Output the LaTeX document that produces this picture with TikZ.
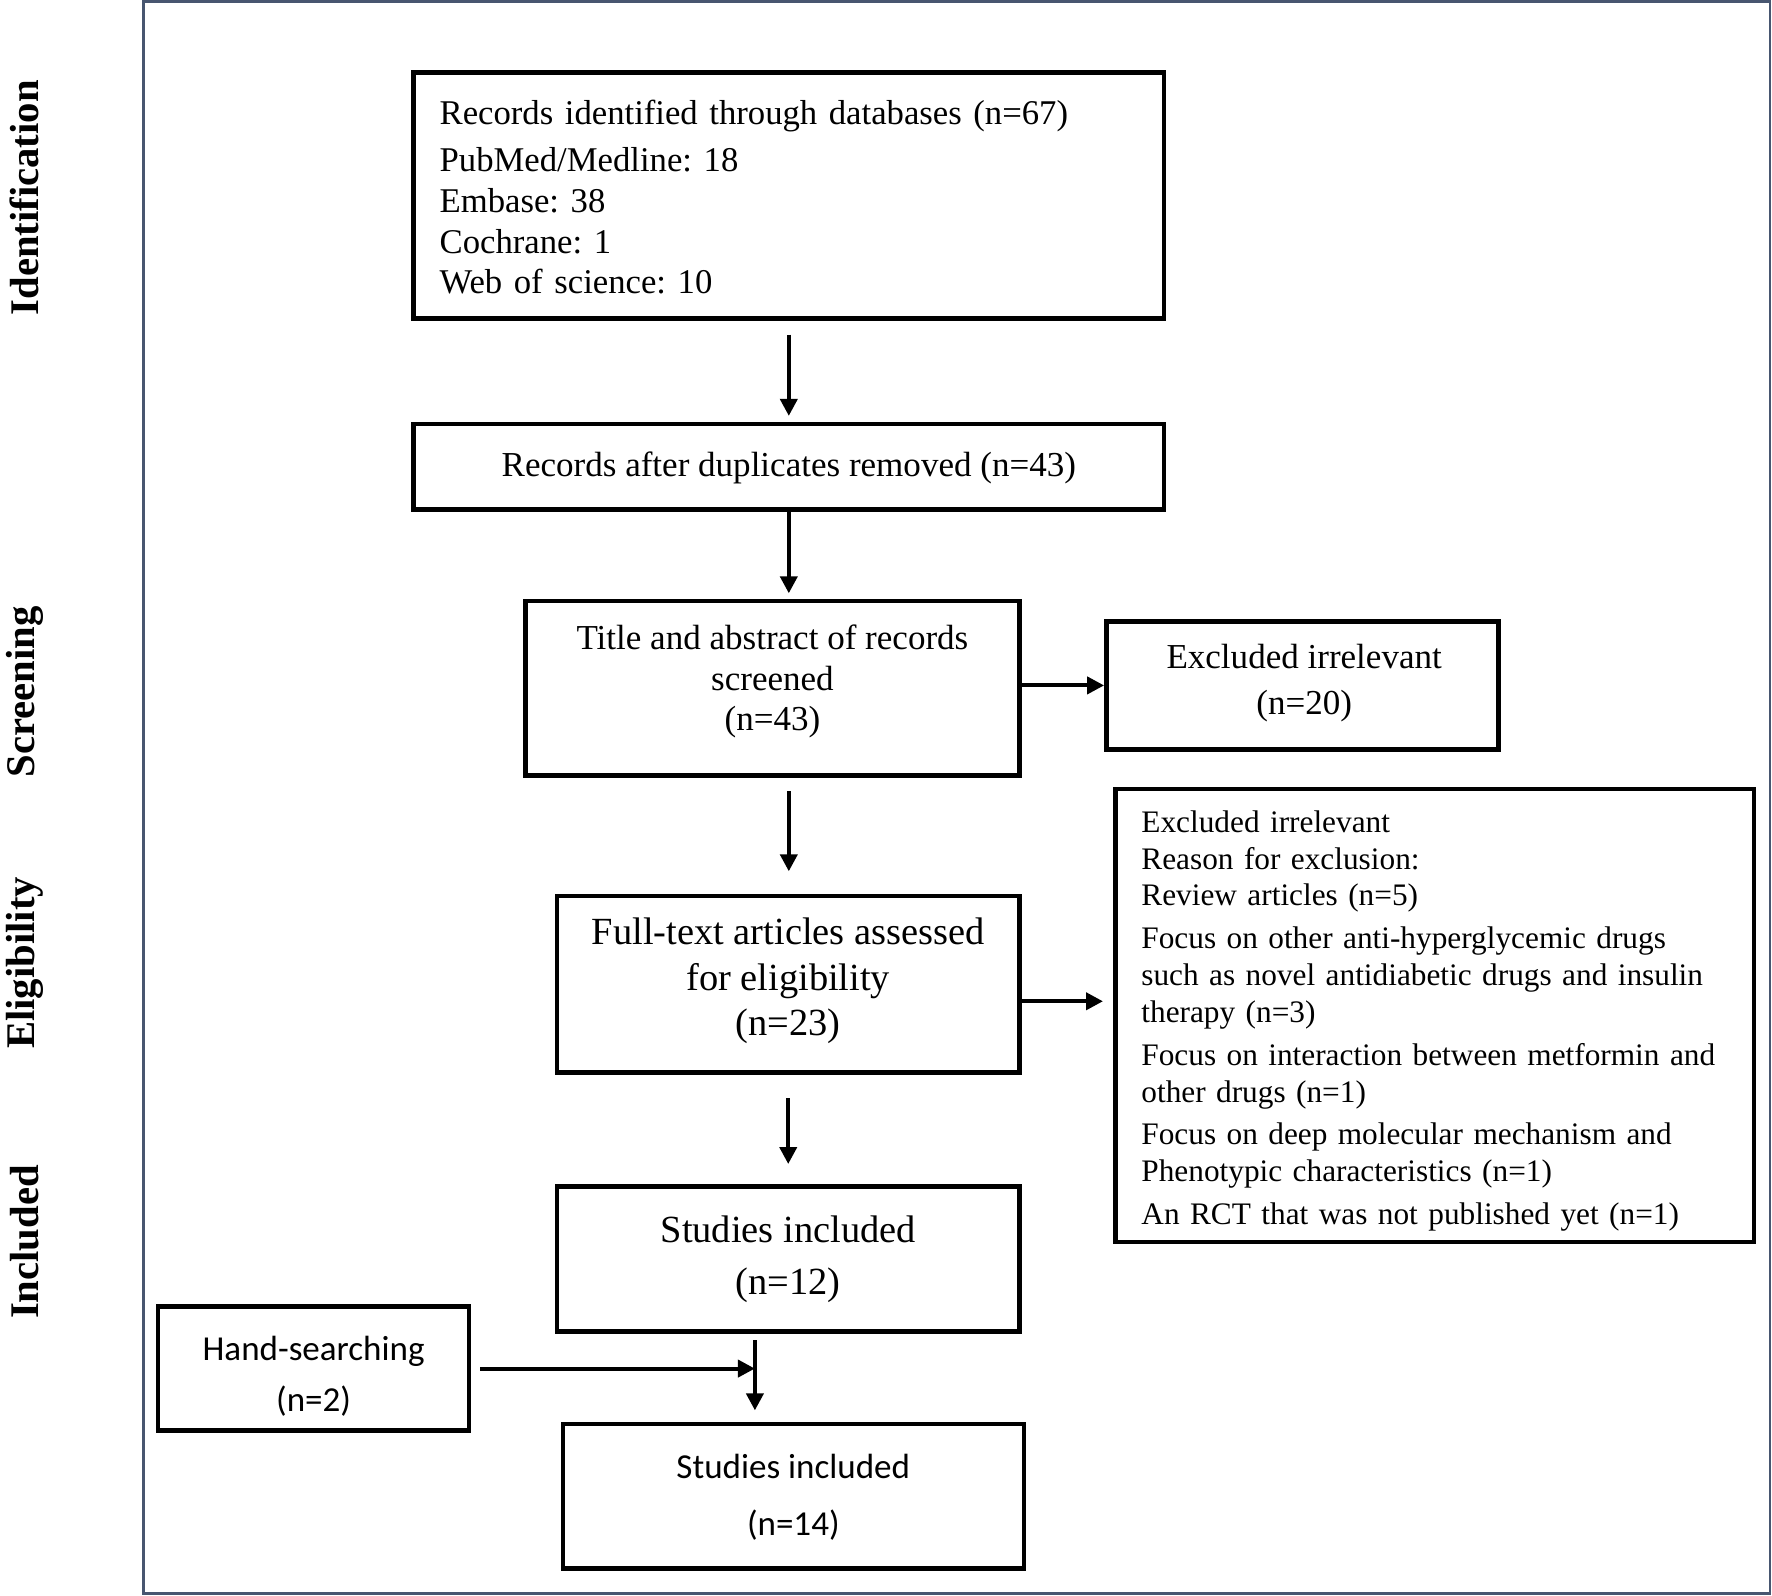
\documentclass[tikz,border=0pt]{standalone}
\usepackage{fontspec}
\setmainfont{Liberation Serif}
\newfontfamily\calfont{Carlito}
\usetikzlibrary{arrows.meta}
\definecolor{framec}{RGB}{72,86,112}
\frenchspacing
\tikzset{
  box/.style={draw=black, line width=4pt, rectangle, inner sep=0pt},
  txt/.style={inner sep=0pt, align=center},
  arr/.style={line width=3.5pt, -{Triangle[length=15pt,width=15pt]}},
  side/.style={rotate=90, font=\fontsize{36}{40}\selectfont\bfseries, inner sep=0pt}
}
\begin{document}
\begin{tikzpicture}[x=1pt,y=-1pt]
\useasboundingbox (0,0) rectangle (1568,1411.5);
\draw[framec, line width=2.2pt] (127,1.5) rectangle (1566,1410);

\node[side] (l1) at (22,175) {Identification};
\node[side] (l2) at (22,612) {Screening};
\node[side] (l3) at (22,852) {Eligibility};
\node[side] (l4) at (22,1099) {Included};

% boxes
\node[box, minimum width=664pt, minimum height=218pt] (b1) at (698,173) {};
\node[box, minimum width=664pt, minimum height=76pt] (b2) at (698,413) {};
\node[box, minimum width=437pt, minimum height=154pt] (b3) at (683.5,609) {};
\node[box, minimum width=347pt, minimum height=113pt] (b4) at (1152.5,606.5) {};
\node[box, minimum width=409pt, minimum height=156pt] (b5) at (697.5,871) {};
\node[box, minimum width=565pt, minimum height=401pt] (b6) at (1269.5,898.5) {};
\node[box, minimum width=409pt, minimum height=128pt] (b7) at (697.5,1114) {};
\node[box, minimum width=275pt, minimum height=110pt] (h) at (277.5,1211) {};
\node[box, minimum width=408pt, minimum height=128pt] (b8) at (702,1324) {};

% texts
\node[txt, text width=618pt, align=left, font=\fontsize{30.7}{36}\selectfont] (t1) at (698,174.5)
  {Records identified through databases (n=67)\\[6pt]
   PubMed/Medline: 18\\ Embase: 38\\ Cochrane: 1\\ Web of science: 10};
\node[txt, font=\fontsize{31}{36}\selectfont] (t2) at (698,414) {Records after duplicates removed (n=43)};
\node[txt, font=\fontsize{31}{36}\selectfont] (t3) at (683.5,603)
  {Title and abstract of records\\ screened\\ (n=43)};
\node[txt, font=\fontsize{31}{40}\selectfont] (t4) at (1154,604.5) {Excluded irrelevant\\ (n=20)};
\node[txt, font=\fontsize{34}{40}\selectfont] (t5) at (697.5,868) {Full-text articles assessed\\ for eligibility\\ (n=23)};
\node[txt, text width=519pt, align=left, font=\fontsize{27.7}{32.5}\selectfont] (t6) at (1269.5,903.5)
  {Excluded irrelevant\\ Reason for exclusion:\\ Review articles (n=5)\\[5.5pt]
   Focus on other anti-hyperglycemic drugs\\ such as novel antidiabetic drugs and insulin\\ therapy (n=3)\\[5.5pt]
   Focus on interaction between metformin and\\ other drugs (n=1)\\[5.5pt]
   Focus on deep molecular mechanism and\\ Phenotypic characteristics (n=1)\\[5.5pt]
   An RCT that was not published yet (n=1)};
\node[txt, font=\fontsize{34}{46}\selectfont] (t7) at (697.5,1114) {Studies included\\ (n=12)};
\node[txt, font=\calfont\fontsize{31}{45}\selectfont] (th) at (277.5,1218) {Hand-searching\\ (n=2)};
\node[txt, font=\calfont\fontsize{31}{50}\selectfont] (t8) at (702,1325) {Studies included\\ (n=14)};

% connectors
\draw[arr] ([yshift=-12pt]b1.south) -- ([yshift=5pt]b2.north);
\draw[arr] (b2.south) -- ([yshift=5pt]b2.south |- b3.north);
\draw[arr] (b3.east |- b4.west) -- (b4.west);
\draw[arr] ([yshift=-12pt]b3.south -| b2.south) -- ([yshift=20pt]b2.south |- b5.north);
\draw[arr] ([yshift=-15pt]b5.east) -- ([xshift=-9pt, yshift=-15pt]b5.east -| b6.west);
\draw[arr] ([yshift=-21pt]b5.south) -- ([yshift=18pt]b7.north);
\coordinate (vt) at (668,1186);
\coordinate (vb) at (668,1248);
\draw[arr] (vt) -- (vb);
\draw[arr] ([xshift=8pt]h.east) -- (h.east -| vt);
\end{tikzpicture}
\end{document}
